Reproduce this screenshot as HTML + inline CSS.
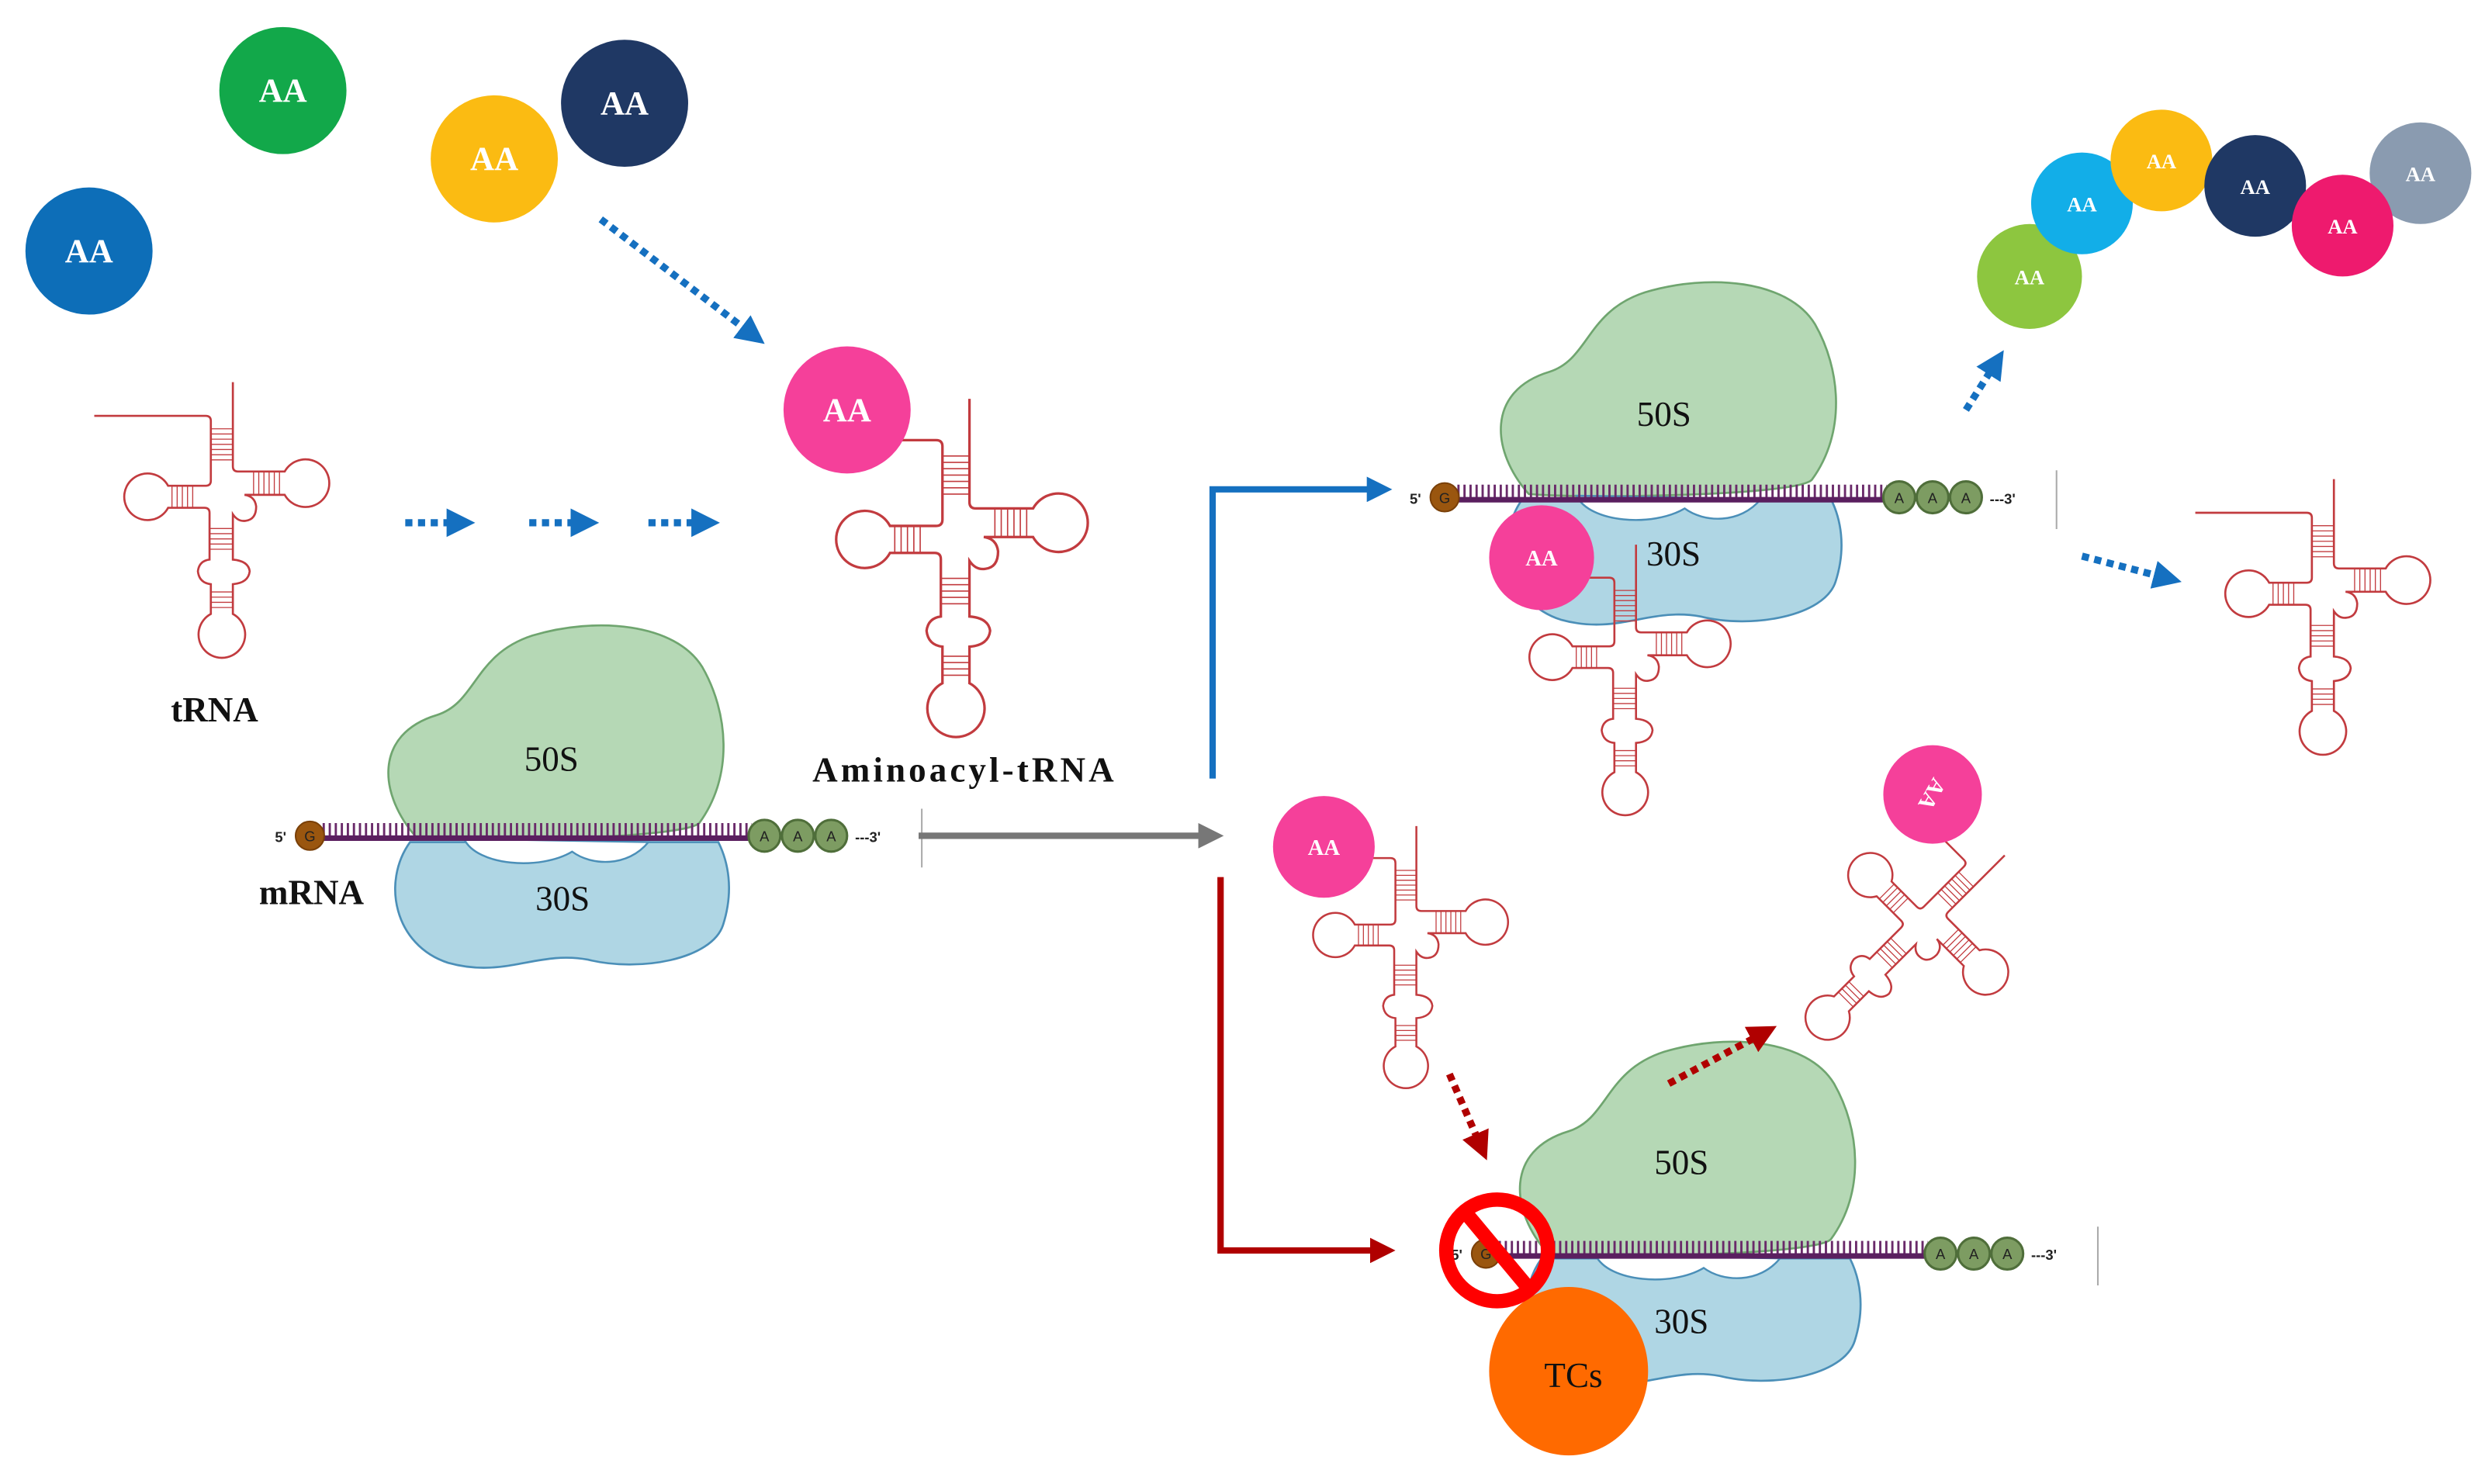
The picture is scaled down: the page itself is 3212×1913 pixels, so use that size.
<!DOCTYPE html>
<html><head><meta charset="utf-8"><style>
html,body{margin:0;padding:0;background:#fff;}
svg{display:block;}
.lbl{font-family:"Liberation Serif",serif;font-weight:bold;fill:#111;text-anchor:middle;}
.rib{font-family:"Liberation Serif",serif;fill:#111;text-anchor:middle;font-size:22px;}
.aa{font-family:"Liberation Serif",serif;font-weight:bold;fill:#fff;text-anchor:middle;}
.sm{font-family:"Liberation Sans",sans-serif;font-weight:bold;font-size:9px;fill:#222;}
</style></head><body>
<svg width="3212" height="1913" viewBox="0 0 1568 934" preserveAspectRatio="none" xmlns="http://www.w3.org/2000/svg">
<defs>
<marker id="mb" markerWidth="4" markerHeight="4" refX="2" refY="2" orient="auto" markerUnits="strokeWidth"><path d="M0,0 L4,2 L0,4 Z" fill="#1570c0"/></marker>
<marker id="mbs" markerWidth="4" markerHeight="4" refX="2" refY="2" orient="auto" markerUnits="strokeWidth"><path d="M0,0 L4,2 L0,4 Z" fill="#1570c0"/></marker>
<marker id="mg" markerWidth="4" markerHeight="4" refX="2" refY="2" orient="auto" markerUnits="strokeWidth"><path d="M0,0 L4,2 L0,4 Z" fill="#777"/></marker>
<marker id="mr" markerWidth="4" markerHeight="4" refX="2" refY="2" orient="auto" markerUnits="strokeWidth"><path d="M0,0 L4,2 L0,4 Z" fill="#b00000"/></marker>
<g id="t" transform="translate(-560,-520)" fill="none" stroke="#c23b3f">
<path stroke-width="8" d="M65,230 H495 Q515,230 515,250 V480 Q515,500 495,500 H350 A90 90 0 1 0 350 585 H490 Q510,585 510,605 V785 Q470,790 465,830 Q470,875 515,880 V995 A90 90 0 1 0 600 995 V880 Q660,875 665,830 Q660,790 600,785 V610 Q620,640 650,635 Q690,630 690,580 Q685,540 645,535 H800 A92 92 0 1 0 800 445 H620 Q600,445 600,425 V100"/>
<path stroke-width="4" d="M515,280H600M515,300H600M515,320H600M515,340H600M515,360H600M515,380H600M515,400H600M365,500V585M385,500V585M405,500V585M425,500V585M445,500V585M510,665H600M510,685H600M510,705H600M510,725H600M510,745H600M515,910H600M515,930H600M515,950H600M515,970H600M680,445V535M700,445V535M720,445V535M740,445V535M760,445V535M780,445V535"/>
</g>
<g id="rb">
<path d="M262,527 C238,500 235,462 275,450 C300,442 298,412 335,400 C375,388 425,392 442,420 C458,448 462,488 440,518 C430,528 300,530 262,527 Z" fill="#b5d8b5" stroke="#6fa56f" stroke-width="1.3"/>
<path d="M258,530 C240,555 248,595 282,606 C318,616 338,598 370,604 C402,612 448,604 455,582 C462,560 458,542 452,530 Z" fill="#afd6e4" stroke="#4b8fb8" stroke-width="1.3"/>
<path d="M292,528 C300,545 340,548 360,536 C372,545 395,546 408,530 Z" fill="#fff" stroke="#4b8fb8" stroke-width="1.2"/>
</g>
<g id="mr1">
<line x1="0" y1="-4" x2="270" y2="-4" stroke="#6a2a6a" stroke-width="8" stroke-dasharray="1.4 2.4"/>
<line x1="0" y1="1.5" x2="270" y2="1.5" stroke="#5a1f5f" stroke-width="3.5"/>
<circle cx="-8" cy="0" r="9" fill="#9a560f" stroke="#7a4008"/>
<text x="-8" y="3.5" class="sm" text-anchor="middle" fill="#6a3000" style="font-weight:normal">G</text>
<circle cx="278" cy="0" r="10" fill="#7d9c62" stroke="#4f6e3a" stroke-width="1.5"/>
<circle cx="299" cy="0" r="10" fill="#7d9c62" stroke="#4f6e3a" stroke-width="1.5"/>
<circle cx="320" cy="0" r="10" fill="#7d9c62" stroke="#4f6e3a" stroke-width="1.5"/>
<text x="278" y="3.5" class="sm" text-anchor="middle" style="font-weight:normal">A</text>
<text x="299" y="3.5" class="sm" text-anchor="middle" style="font-weight:normal">A</text>
<text x="320" y="3.5" class="sm" text-anchor="middle" style="font-weight:normal">A</text>
<text x="335" y="4" class="sm">---3'</text>
<text x="-30" y="4" class="sm">5'</text>
<line x1="377" y1="-17" x2="377" y2="20" stroke="#aaa" stroke-width="1"/>
</g>
</defs>

<circle cx="178" cy="57" r="40" fill="#12a84a"/><text x="178" y="64" class="aa" font-size="21">AA</text>
<circle cx="311" cy="100" r="40" fill="#fbbb12"/><text x="311" y="107" class="aa" font-size="21">AA</text>
<circle cx="393" cy="65" r="40" fill="#1f3864"/><text x="393" y="72" class="aa" font-size="21">AA</text>
<circle cx="56" cy="158" r="40" fill="#0d6eb8"/><text x="56" y="165" class="aa" font-size="21">AA</text>

<use href="#t" transform="translate(140,309) scale(0.163)"/>
<text x="135" y="454" class="lbl" font-size="22">tRNA</text>

<g stroke="#1570c0" stroke-width="4.5" fill="none" stroke-dasharray="4.5 3.5">
<line x1="255" y1="329" x2="290" y2="329" marker-end="url(#mb)"/>
<line x1="333" y1="329" x2="368" y2="329" marker-end="url(#mb)"/>
<line x1="408" y1="329" x2="444" y2="329" marker-end="url(#mb)"/>
<line x1="378" y1="138" x2="474" y2="211" marker-end="url(#mb)"/>
<line x1="1237" y1="258" x2="1256" y2="228" marker-end="url(#mb)"/>
<line x1="1310" y1="350" x2="1364" y2="364" marker-end="url(#mb)"/>
</g>

<use href="#t" transform="translate(602,335) scale(0.2)"/>
<circle cx="533" cy="258" r="40" fill="#f5409a"/><text x="533" y="265" class="aa" font-size="21">AA</text>
<text x="607" y="492" class="lbl" font-size="22" letter-spacing="2">Aminoacyl-tRNA</text>

<use href="#rb"/>
<use href="#mr1" transform="translate(203,526)"/>
<text x="347" y="485" class="rib">50S</text>
<text x="354" y="573" class="rib">30S</text>
<text x="196" y="569" class="lbl" font-size="22">mRNA</text>

<line x1="578" y1="526" x2="762" y2="526" stroke="#777" stroke-width="4" marker-end="url(#mg)"/>
<path d="M763,490 V308 H868" stroke="#1570c0" stroke-width="4" fill="none" marker-end="url(#mbs)"/>
<path d="M768,552 V787 H870" stroke="#b00000" stroke-width="4" fill="none" marker-end="url(#mr)"/>

<g transform="translate(700,-216)"><use href="#rb"/></g>
<use href="#mr1" transform="translate(917,313)"/>
<use href="#t" transform="translate(1023,410) scale(0.16)"/>
<circle cx="970" cy="351" r="33" fill="#f5409a"/><text x="970" y="356" class="aa" font-size="14">AA</text>
<text x="1047" y="268" class="rib">50S</text>
<text x="1053" y="356" class="rib">30S</text>

<circle cx="1277" cy="174" r="33" fill="#8dc63f"/><text x="1277" y="179" class="aa" font-size="13">AA</text>
<circle cx="1310" cy="128" r="32" fill="#12aee8"/><text x="1310" y="133" class="aa" font-size="13">AA</text>
<circle cx="1360" cy="101" r="32" fill="#fbbb12"/><text x="1360" y="106" class="aa" font-size="13">AA</text>
<circle cx="1419" cy="117" r="32" fill="#1f3864"/><text x="1419" y="122" class="aa" font-size="13">AA</text>
<circle cx="1523" cy="109" r="32" fill="#8a9bb0"/><text x="1523" y="114" class="aa" font-size="13">AA</text>
<circle cx="1474" cy="142" r="32" fill="#ee1a6e"/><text x="1474" y="147" class="aa" font-size="13">AA</text>

<use href="#t" transform="translate(1462,370) scale(0.163)"/>

<use href="#t" transform="translate(885,585) scale(0.155)"/>
<circle cx="833" cy="533" r="32" fill="#f5409a"/><text x="833" y="538" class="aa" font-size="14">AA</text>
<use href="#t" transform="translate(1211,580) rotate(45) scale(0.155)"/>
<circle cx="1216" cy="500" r="31" fill="#f5409a"/><text x="1216" y="505" class="aa" font-size="14" transform="rotate(120 1216 500)">AA</text>

<g transform="translate(712,262)"><use href="#rb"/></g>
<use href="#mr1" transform="translate(943,789)"/>
<text x="1058" y="739" class="rib">50S</text>
<text x="1058" y="839" class="rib">30S</text>
<g stroke="#b00000" stroke-width="4.5" fill="none" stroke-dasharray="4.5 3.5">
<line x1="912" y1="676" x2="932" y2="722" marker-end="url(#mr)"/>
<line x1="1050" y1="682" x2="1110" y2="650" marker-end="url(#mr)"/>
</g>
<ellipse cx="987" cy="863" rx="50" ry="53" fill="#ff6a00"/>
<text x="990" y="873" class="rib" font-size="26">TCs</text>
<circle cx="942" cy="787" r="32" fill="none" stroke="#ff0000" stroke-width="9"/>
<line x1="922" y1="763" x2="962" y2="811" stroke="#ff0000" stroke-width="9"/>
</svg>
</body></html>
